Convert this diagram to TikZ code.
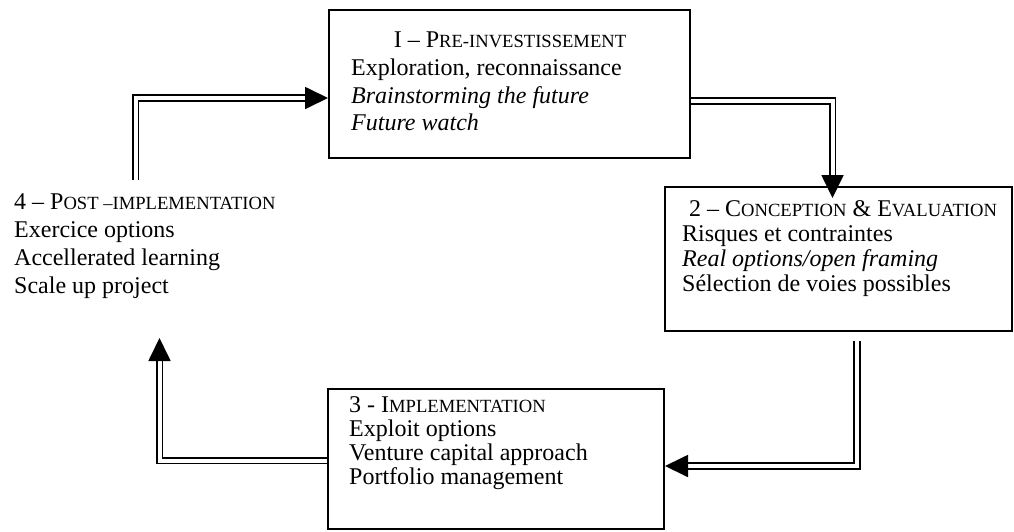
\documentclass[tikz,border=0pt]{standalone}
\usepackage{fontspec}
\setmainfont{Liberation Serif}
\usetikzlibrary{arrows.meta,calc}
% small capitals built from reduced upper case letters
\newcommand\smc[1]{{\fontsize{18.6}{20}\selectfont #1}}
\begin{document}
\begin{tikzpicture}[x=1pt,y=-1pt,
  stage/.style={draw=black,line width=2pt,fill=white,inner sep=0pt},
  txt/.style={anchor=base west,inner sep=0pt,font=\fontsize{24}{26}\selectfont},
  ctxt/.style={anchor=base,inner sep=0pt,font=\fontsize{24}{26}\selectfont},
  link/.style={draw=black,line width=1.8pt,double=white,double distance=4pt,
    -{Triangle[length=23pt,width=22pt]}}]
\useasboundingbox (0,0) rectangle (1014,531);

% the three framed stages
\node[stage,minimum width=361pt,minimum height=148pt] (box1) at (509.5,84) {};
\node[stage,minimum width=347pt,minimum height=144pt] (box2) at (838.5,259) {};
\node[stage,minimum width=336pt,minimum height=140pt] (box3) at (496,459) {};

% stage 1
\node[ctxt] (t1a) at (510,47) {I -- P\smc{RE-INVESTISSEMENT}};
\node[txt] (t1b) at (351,75) {Exploration, reconnaissance};
\node[txt] (t1c) at (351,103) {\itshape Brainstorming the future};
\node[txt] (t1d) at (351,130) {\itshape Future watch};

% stage 2
\node[txt] (t2a) at (689,216) {2 -- C\smc{ONCEPTION} \& E\smc{VALUATION}};
\node[txt] (t2b) at (682,241) {Risques et contraintes};
\node[txt] (t2c) at (682,266) {\itshape Real options/open framing};
\node[txt] (t2d) at (682,291) {Sélection de voies possibles};

% stage 3
\node[txt] (t3a) at (349,412) {3 - I\smc{MPLEMENTATION}};
\node[txt] (t3b) at (349,436) {Exploit options};
\node[txt] (t3c) at (349,460) {Venture capital approach};
\node[txt] (t3d) at (349,484) {Portfolio management};

% stage 4 (no frame)
\node[txt] (t4a) at (14,209) {4 -- P\smc{OST --IMPLEMENTATION}};
\node[txt] (t4b) at (14,237) {Exercice options};
\node[txt] (t4c) at (14,265) {Accellerated learning};
\node[txt] (t4d) at (14,293) {Scale up project};

% loose ends of the cycle
\coordinate (c41) at (135.5,180);
\coordinate (c34) at (159.5,338);

% double-line connectors
\draw[link] (c41) |- ([yshift=-14pt]box1.west);
\draw[link] ([yshift=-17pt]box1.east) -| ([xshift=-6pt,yshift=-12pt]box2.north);
\draw[link] ([xshift=18.5pt,yshift=-9pt]box2.south) |- ([yshift=-7pt]box3.east);
\draw[link] ([yshift=-1.5pt]box3.west) -| (c34);
\end{tikzpicture}
\end{document}
